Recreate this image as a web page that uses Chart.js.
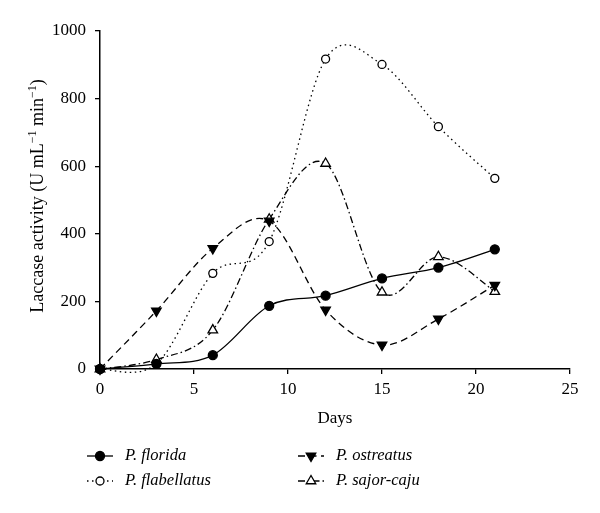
<!DOCTYPE html>
<html>
<head>
<meta charset="utf-8">
<script src="https://cdn.jsdelivr.net/npm/chart.js@4.4.1/dist/chart.umd.min.js"></script>
<style>
  body { margin: 0; background: #fff; }
  #wrap { width: 600px; height: 513px; }
</style>
</head>
<body>
<div id="wrap"><canvas id="chart"></canvas></div>
<script>
// --- data ---
const days = [0, 3, 6, 9, 12, 15, 18, 21];
const florida = [0, 15, 41, 187, 217, 268, 300, 354];
const flabellatus = [0, 15, 283, 377, 917, 901, 717, 564];
const ostreatus = [0, 172, 357, 438, 175, 71, 148, 248];
const sajorCaju = [0, 28, 115, 443, 608, 227, 332, 229];
const seriesNames = ['P. florida', 'P. flabellatus', 'P. ostreatus', 'P. sajor-caju'];
const xTitle = 'Days';

const SERIF = '"Liberation Serif", "DejaVu Serif", serif';

const toPoints = vals => days.map((d, i) => ({ x: d, y: vals[i] }));

// line/marker style for each series
const styles = [
  { dash: [], pointStyle: 'circle', radius: 4.5, fill: '#000', rotation: 0 },
  { dash: [1.5, 3.5], pointStyle: 'circle', radius: 4, fill: '#fff', rotation: 0 },
  { dash: [7, 4.5], pointStyle: 'triangle', radius: 5.5, fill: '#000', rotation: 180 },
  { dash: [7, 3, 1.5, 3], pointStyle: 'triangle', radius: 5.5, fill: '#fff', rotation: 0 }
];

const seriesData = [florida, flabellatus, ostreatus, sajorCaju];

const datasets = seriesData.map((vals, i) => ({
  label: seriesNames[i],
  data: toPoints(vals),
  borderColor: '#000',
  borderWidth: 1.3,
  borderDash: styles[i].dash,
  tension: 0.4,
  pointStyle: styles[i].pointStyle,
  pointRotation: styles[i].rotation,
  pointRadius: styles[i].radius,
  pointBackgroundColor: styles[i].fill,
  pointBorderColor: '#000',
  pointBorderWidth: 1.3,
  fill: false,
  clip: false
}));

// spreadsheet-style smoothing: control points at +-(next - prev)/6
const smoothPlugin = {
  id: 'smooth',
  beforeDatasetsDraw(chart) {
    chart.data.datasets.forEach((ds, di) => {
      const meta = chart.getDatasetMeta(di);
      const line = meta.dataset;
      line.updateControlPoints(chart.chartArea, 'x');
      const pts = meta.data;
      const n = pts.length;
      pts.forEach((p, i) => {
        const prev = pts[Math.max(i - 1, 0)];
        const next = pts[Math.min(i + 1, n - 1)];
        const dx = (next.x - prev.x) / 6;
        const dy = (next.y - prev.y) / 6;
        p.cp1x = p.x - dx;
        p.cp1y = p.y - dy;
        p.cp2x = p.x + dx;
        p.cp2y = p.y + dy;
      });
      line._path = undefined;
    });
  }
};

// draws axis titles and the legend by hand (superscripts + line samples)
const extrasPlugin = {
  id: 'extras',
  afterDraw(chart) {
    const ctx = chart.ctx;
    const area = chart.chartArea;
    ctx.save();
    ctx.fillStyle = '#000';

    // x title
    ctx.font = '17px ' + SERIF;
    ctx.textAlign = 'center';
    ctx.textBaseline = 'middle';
    ctx.fillText(xTitle, (area.left + area.right) / 2, 419);

    // y title with superscripts
    const parts = [
      { t: 'Laccase activity (U mL', sup: false },
      { t: '\u22121', sup: true },
      { t: ' min', sup: false },
      { t: '\u22121', sup: true },
      { t: ')', sup: false }
    ];
    const mainFont = '18px ' + SERIF;
    const supFont = '12px ' + SERIF;
    let total = 0;
    parts.forEach(p => {
      ctx.font = p.sup ? supFont : mainFont;
      p.w = ctx.measureText(p.t).width;
      total += p.w;
    });
    ctx.translate(43, 196);
    ctx.rotate(-Math.PI / 2);
    ctx.textAlign = 'left';
    ctx.textBaseline = 'alphabetic';
    let cx = -total / 2;
    parts.forEach(p => {
      ctx.font = p.sup ? supFont : mainFont;
      ctx.fillText(p.t, cx, p.sup ? -7 : 0);
      cx += p.w;
    });
    ctx.restore();

    // legend
    const slots = [
      { i: 0, x: 87, y: 456 },
      { i: 2, x: 298, y: 456 },
      { i: 1, x: 87, y: 481 },
      { i: 3, x: 298, y: 481 }
    ];
    slots.forEach(s => {
      const st = styles[s.i];
      ctx.save();
      ctx.strokeStyle = '#000';
      ctx.lineWidth = 1.3;
      ctx.setLineDash(st.dash);
      ctx.beginPath();
      ctx.moveTo(s.x, s.y);
      ctx.lineTo(s.x + 26, s.y);
      ctx.stroke();
      ctx.setLineDash([]);
      drawMarker(ctx, st, s.x + 13, s.y);
      ctx.fillStyle = '#000';
      ctx.font = 'italic 16.5px ' + SERIF;
      ctx.textAlign = 'left';
      ctx.textBaseline = 'middle';
      ctx.fillText(seriesNames[s.i], s.x + 38, s.y);
      ctx.restore();
    });
  }
};

function drawMarker(ctx, st, x, y) {
  ctx.save();
  ctx.fillStyle = st.fill;
  ctx.strokeStyle = '#000';
  ctx.lineWidth = 1.3;
  ctx.beginPath();
  if (st.pointStyle === 'circle') {
    ctx.arc(x, y, st.radius, 0, Math.PI * 2);
  } else {
    const r = st.radius;
    const dir = st.rotation === 180 ? -1 : 1;
    ctx.moveTo(x, y - dir * r);
    ctx.lineTo(x - r * 0.866, y + dir * r * 0.5);
    ctx.lineTo(x + r * 0.866, y + dir * r * 0.5);
    ctx.closePath();
  }
  ctx.fill();
  ctx.stroke();
  ctx.restore();
}

const tickFont = { family: SERIF, size: 17 };

new Chart(document.getElementById('chart'), {
  type: 'line',
  data: { datasets },
  plugins: [smoothPlugin, extrasPlugin],
  options: {
    responsive: true,
    maintainAspectRatio: false,
    animation: false,
    layout: { padding: { top: 31, right: 30, left: 0, bottom: 0 } },
    plugins: { legend: { display: false }, tooltip: { enabled: false } },
    scales: {
      x: {
        type: 'linear',
        min: 0,
        max: 25,
        ticks: { stepSize: 5, color: '#000', font: tickFont, padding: 5, maxRotation: 0,
                 callback: v => String(v) },
        grid: { display: true, drawOnChartArea: false, drawTicks: true, tickLength: 5, color: '#000', lineWidth: 1.3 },
        border: { display: true, color: '#000', width: 1.5 },
        afterFit: scale => { scale.height = 144; }
      },
      y: {
        min: 0,
        max: 1000,
        ticks: { stepSize: 200, color: '#000', font: tickFont, padding: 9,
                 callback: v => String(v) },
        grid: { display: true, drawOnChartArea: false, drawTicks: true, tickLength: 5, color: '#000', lineWidth: 1.3 },
        border: { display: true, color: '#000', width: 1.5 },
        afterFit: scale => { scale.width = 100; }
      }
    }
  }
});
</script>
</body>
</html>
